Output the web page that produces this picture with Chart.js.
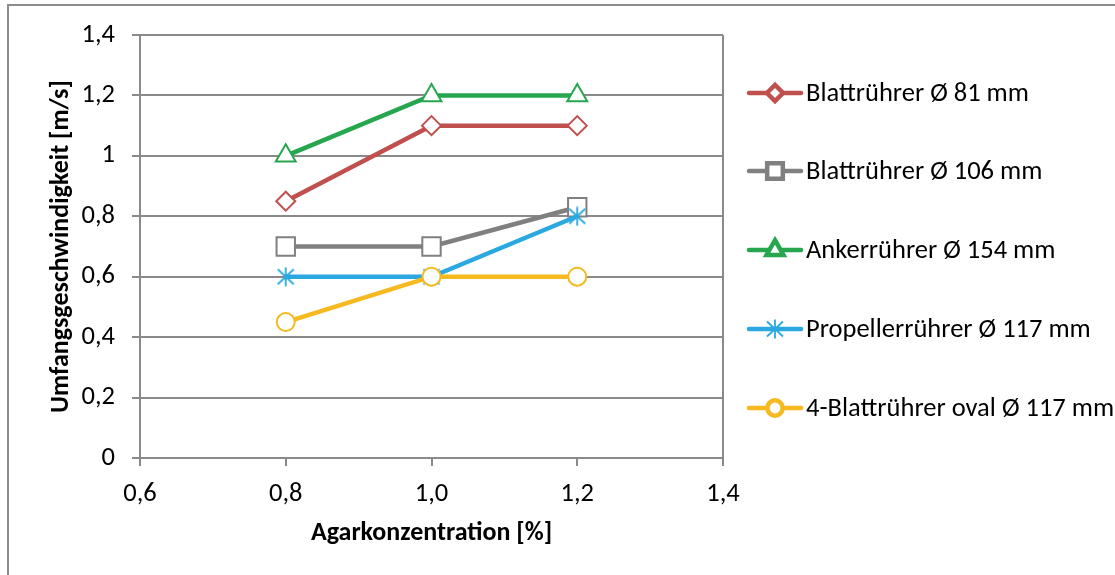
<!DOCTYPE html>
<html lang="de">
<head>
<meta charset="utf-8">
<title>Umfangsgeschwindigkeit</title>
<script src="https://cdn.jsdelivr.net/npm/chart.js@4/dist/chart.umd.min.js"></script>
<style>
    html, body { margin: 0; padding: 0; background: #fff; }
    canvas { display: block; }
</style>
</head>
<body>
<canvas id="ruehrerChart" width="1115" height="575"></canvas>
<script>
// Messwerte: Agarkonzentration [%] gegen Umfangsgeschwindigkeit [m/s]
const agar = [0.8, 1.0, 1.2];

const blatt81 = [0.85, 1.1, 1.1];
const blatt106 = [0.7, 0.7, 0.83];
const anker154 = [1.0, 1.2, 1.2];
const propeller117 = [0.6, 0.6, 0.8];
const vierBlattOval117 = [0.45, 0.6, 0.6];

const serienNamen = [
    "Blattrührer Ø 81 mm",
    "Blattrührer Ø 106 mm",
    "Ankerrührer Ø 154 mm",
    "Propellerrührer Ø 117 mm",
    "4-Blattrührer oval Ø 117 mm"
];

const xTickLabels = ["0,6", "0,8", "1,0", "1,2", "1,4"];
const yTickLabels = ["0", "0,2", "0,4", "0,6", "0,8", "1", "1,2", "1,4"];

const schrift = "Carlito, Calibri, Lato, sans-serif";
const gitterFarbe = "#8a8a8a";

// Stern-Marker (senkrecht + X), wie in Excel
function sternMarker(farbe) {
    const c = document.createElement('canvas');
    c.width = 20;
    c.height = 20;
    const g = c.getContext('2d');
    g.strokeStyle = farbe;
    g.lineWidth = 1.8;
    g.beginPath();
    g.moveTo(10, 0.5); g.lineTo(10, 19.5);
    g.moveTo(2, 2.5); g.lineTo(18, 17.5);
    g.moveTo(18, 2.5); g.lineTo(2, 17.5);
    g.stroke();
    return c;
}

function punkte(werte) {
    return agar.map((x, i) => ({ x: x, y: werte[i] }));
}

function serie(name, werte, farbe, stil, radius, order) {
    return {
        label: name,
        data: punkte(werte),
        borderColor: farbe,
        backgroundColor: farbe,
        borderWidth: 4.5,
        pointStyle: stil,
        pointRadius: radius,
        pointHoverRadius: radius,
        pointBackgroundColor: "#fff",
        pointBorderColor: farbe,
        pointBorderWidth: 2,
        tension: 0,
        order: order
    };
}

const datasets = [
    serie(serienNamen[0], blatt81, "#c0504d", "rectRot", 9.5, 5),
    serie(serienNamen[1], blatt106, "#808080", "rect", 13, 4),
    serie(serienNamen[2], anker154, "#26a64f", "triangle", 11.5, 3),
    serie(serienNamen[3], propeller117, "#2aa8df", sternMarker("#2aa8df"), 10, 2),
    serie(serienNamen[4], vierBlattOval117, "#f6b920", "circle", 9, 1)
];

// Rahmen links/oben und weisser Hintergrund
const rahmenPlugin = {
    id: 'rahmen',
    beforeDraw(chart) {
        const ctx = chart.ctx;
        ctx.save();
        ctx.fillStyle = "#fff";
        ctx.fillRect(0, 0, chart.width, chart.height);
        ctx.strokeStyle = "#8c8c8c";
        ctx.lineWidth = 2;
        ctx.beginPath();
        ctx.moveTo(8, chart.height);
        ctx.lineTo(8, 5);
        ctx.lineTo(chart.width, 5);
        ctx.stroke();
        ctx.restore();
    }
};

// Legende rechts: Linie mit Marker + Text
const legendePlugin = {
    id: 'legende',
    afterDraw(chart) {
        const ctx = chart.ctx;
        const zeilenY = [93, 171, 250, 329, 408];
        ctx.save();
        chart.data.datasets.forEach((ds, i) => {
            const y = zeilenY[i];
            ctx.strokeStyle = ds.borderColor;
            ctx.lineWidth = ds.borderWidth;
            ctx.lineCap = "round";
            ctx.beginPath();
            ctx.moveTo(749, y);
            ctx.lineTo(801, y);
            ctx.stroke();
            ctx.lineCap = "butt";
            ctx.fillStyle = ds.pointBackgroundColor;
            ctx.strokeStyle = ds.pointBorderColor;
            Chart.helpers.drawPoint(ctx, {
                pointStyle: ds.pointStyle,
                rotation: 0,
                radius: ds.pointRadius * 0.85,
                borderWidth: ds.pointBorderWidth
            }, 775, y);
            ctx.fillStyle = "#000";
            ctx.font = "26.5px " + schrift;
            ctx.textBaseline = "middle";
            ctx.textAlign = "left";
            ctx.fillText(ds.label, 806, y + 1);
        });
        ctx.restore();
    }
};

const ctx = document.getElementById('ruehrerChart').getContext('2d');

new Chart(ctx, {
    type: "line",
    data: { datasets: datasets },
    plugins: [rahmenPlugin, legendePlugin],
    options: {
        responsive: false,
        animation: false,
        devicePixelRatio: 1,
        layout: { padding: { left: 0, right: 392, top: 35, bottom: 0 } },
        plugins: {
            legend: { display: false },
            tooltip: { enabled: false }
        },
        scales: {
            x: {
                type: "linear",
                min: 0.6,
                max: 1.4,
                ticks: {
                    stepSize: 0.2,
                    color: "#000",
                    padding: 12,
                    font: { family: schrift, size: 26.5 },
                    callback: (v, i) => xTickLabels[i]
                },
                grid: {
                    drawOnChartArea: true,
                    color: (c) => c.index === xTickLabels.length - 1 ? gitterFarbe : "transparent",
                    tickColor: gitterFarbe,
                    tickLength: 8,
                    lineWidth: 2
                },
                border: { display: true, color: gitterFarbe, width: 2 },
                title: {
                    display: true,
                    text: "Agarkonzentration [%]",
                    color: "#000",
                    font: { family: schrift, size: 26, weight: "bold" },
                    padding: { top: 0, bottom: 26 }
                },
                afterFit: (scale) => { scale.height = 117; }
            },
            y: {
                min: 0,
                max: 1.4,
                ticks: {
                    stepSize: 0.2,
                    color: "#000",
                    padding: 17,
                    font: { family: schrift, size: 26.5 },
                    callback: (v, i) => yTickLabels[i]
                },
                grid: {
                    color: gitterFarbe,
                    tickColor: gitterFarbe,
                    tickLength: 8,
                    lineWidth: 2
                },
                border: { display: true, color: gitterFarbe, width: 2 },
                title: {
                    display: true,
                    text: "Umfangsgeschwindigkeit [m/s]",
                    color: "#000",
                    font: { family: schrift, size: 26, weight: "bold" },
                    padding: { top: 46, bottom: 0 }
                },
                afterFit: (scale) => { scale.width = 140; }
            }
        }
    }
});
</script>
</body>
</html>
